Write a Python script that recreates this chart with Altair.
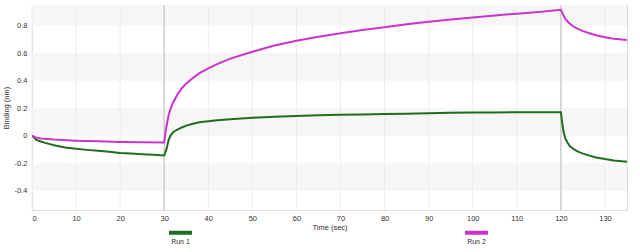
import altair as alt
import pandas as pd

# ---- data ----
run1_t = [0, 0.5, 1, 2, 3, 5, 7.5, 10, 12.5, 15, 17.5, 20, 22.5, 25, 27.5, 30,
          30.5, 31, 31.5, 32, 33, 34, 35, 36.5, 38, 40, 42, 45, 50, 55, 60, 65,
          70, 75, 80, 85, 90, 95, 100, 105, 110, 115, 120, 120.3, 120.6, 121,
          121.5, 122, 123, 124, 125, 126.5, 128, 130, 132, 135]
run1_v = [0, -0.015, -0.03, -0.042, -0.052, -0.07, -0.085, -0.095, -0.103, -0.11,
          -0.117, -0.125, -0.13, -0.135, -0.139, -0.143, -0.1, -0.03, 0.005, 0.025,
          0.045, 0.06, 0.073, 0.087, 0.098, 0.105, 0.112, 0.12, 0.13, 0.138, 0.143,
          0.148, 0.152, 0.155, 0.158, 0.16, 0.163, 0.166, 0.168, 0.169, 0.17, 0.171,
          0.171, 0.09, 0.03, -0.02, -0.05, -0.075, -0.1, -0.117, -0.13, -0.145,
          -0.158, -0.17, -0.18, -0.19]

run2_t = [0, 1, 2, 5, 10, 15, 20, 25, 30, 30.3, 30.7, 31, 31.5, 32, 33, 34, 35,
          36.5, 38, 40, 42, 45, 50, 55, 60, 65, 70, 75, 80, 85, 90, 95, 100, 105,
          110, 115, 120, 120.5, 121, 121.5, 122, 123, 124, 125, 126.5, 128, 130,
          132, 135]
run2_v = [0, -0.014, -0.02, -0.028, -0.036, -0.041, -0.045, -0.048, -0.05, 0.03,
          0.1, 0.15, 0.2, 0.24, 0.3, 0.345, 0.38, 0.42, 0.455, 0.49, 0.52, 0.56,
          0.61, 0.655, 0.69, 0.72, 0.745, 0.768, 0.788, 0.81, 0.828, 0.845, 0.86,
          0.873, 0.887, 0.9, 0.915, 0.88, 0.85, 0.83, 0.815, 0.79, 0.775, 0.76,
          0.745, 0.73, 0.715, 0.705, 0.695]

series_names = ["Run 1", "Run 2"]
series_colors = ["#1e6e1e", "#cc33cc"]

event_times = [30, 120]
band_lo = [0.8, 0.4, 0.0, -0.4]
band_hi = [0.95, 0.6, 0.2, -0.2]
x_ticks = list(range(0, 131, 10))
y_ticks = [-0.4, -0.2, 0, 0.2, 0.4, 0.6, 0.8]

# ---- tables ----
lines = pd.concat([
    pd.DataFrame({"t": run1_t, "v": run1_v, "run": series_names[0], "o": range(len(run1_t))}),
    pd.DataFrame({"t": run2_t, "v": run2_v, "run": series_names[1], "o": range(len(run2_t))}),
])
bands = pd.DataFrame({"lo": band_lo, "hi": band_hi})
events = pd.DataFrame({"t": event_times})

FONT = "Liberation Sans"
xscale = alt.Scale(domain=[0, 135], nice=False, zero=False)
yscale = alt.Scale(domain=[-0.54, 0.95], nice=False, zero=False)

xaxis = alt.Axis(values=x_ticks, grid=False, ticks=False, domain=False,
                 labelPadding=4, titlePadding=2, labelFontSize=7.5,
                 titleFontSize=7.5, titleFontWeight="normal",
                 labelColor="#333333", titleColor="#333333",
                 labelOverlap=False, labelFont=FONT, titleFont=FONT)
yaxis = alt.Axis(values=y_ticks, grid=False, ticks=False, domain=False,
                 labelPadding=5, titlePadding=4, labelFontSize=7.5,
                 titleFontSize=7.5, titleFontWeight="normal",
                 labelColor="#333333", titleColor="#333333",
                 labelOverlap=False, labelFont=FONT, titleFont=FONT,
                 labelExpr="datum.value == 0 ? '0' : toString(round(datum.value*10)/10)")
XT = "Time (sec)"
YT = "Binding (nm)"

band_layer = alt.Chart(bands).mark_rect(color="#f6f6f6").encode(
    y=alt.Y("lo:Q", scale=yscale, axis=yaxis, title=YT),
    y2="hi:Q",
    x=alt.value(0),
    x2=alt.value("width"),
)

grid_layer = alt.Chart(pd.DataFrame({"t": x_ticks})).mark_rule(
    color="#ececec", strokeWidth=1
).encode(x=alt.X("t:Q", scale=xscale, axis=xaxis, title=XT))

event_layer = alt.Chart(events).mark_rule(color="#cfcfcf", strokeWidth=1.5).encode(
    x=alt.X("t:Q", scale=xscale, axis=xaxis, title=XT)
)

line_layer = alt.Chart(lines).mark_line(strokeWidth=2, clip=True).encode(
    x=alt.X("t:Q", scale=xscale, title=XT, axis=xaxis),
    y=alt.Y("v:Q", scale=yscale, title=YT, axis=yaxis),
    color=alt.Color("run:N",
                    scale=alt.Scale(domain=series_names, range=series_colors),
                    legend=alt.Legend(
                        title=None, orient="none", direction="horizontal",
                        columns=2, columnPadding=257, legendX=135, legendY=214,
                        padding=0, symbolType="stroke", symbolSize=529,
                        symbolStrokeWidth=4, labelAlign="center",
                        labelOffset={"expr": "-13.5"},
                        labelBaseline="middle", labelFontSize=7, labelFont=FONT,
                        labelColor="#333333",
                        labelExpr="['', '', datum.label]")),
    order="o:Q",
)

chart = alt.layer(band_layer, grid_layer, event_layer, line_layer).properties(
    width=595, height=205,
    autosize=alt.AutoSizeParams(type="none"),
    padding={"left": 32, "top": 5, "right": 13, "bottom": 42},
).configure_view(stroke="#e4e4e4").configure(background="white")

chart.save("out.html", embed_options={"renderer": "svg", "actions": False})
